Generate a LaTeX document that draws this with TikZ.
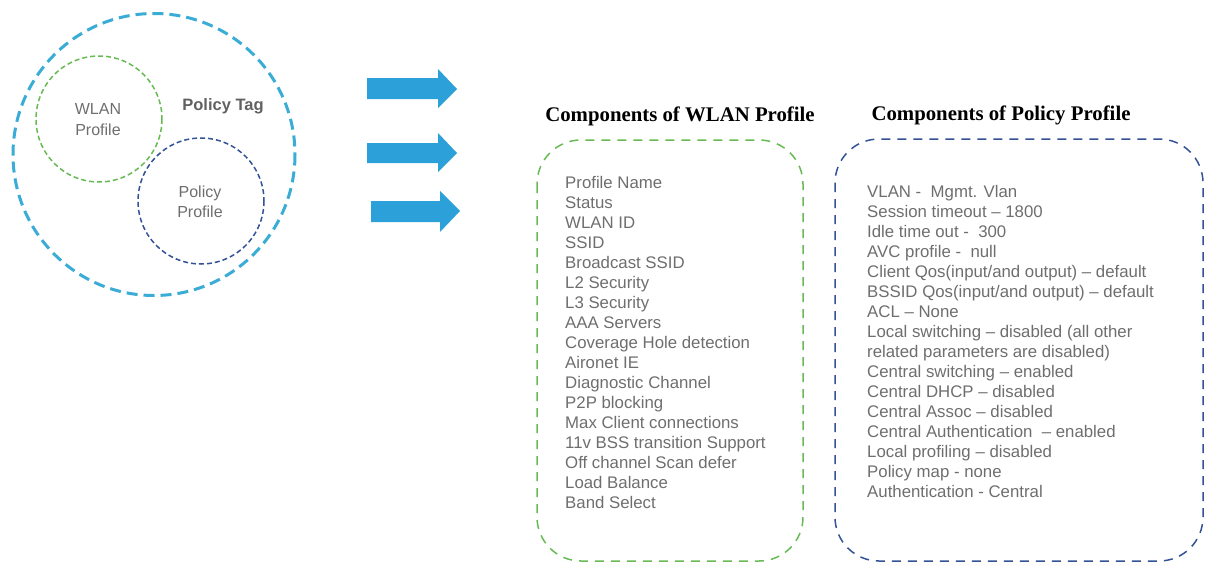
\documentclass[tikz,border=0pt]{standalone}
\usepackage{fontspec}
\setmainfont{Liberation Sans}
\newfontfamily\headfont{Liberation Serif}
\definecolor{tagblue}{RGB}{58,172,214}
\definecolor{wgreen}{RGB}{104,186,84}
\definecolor{pblue}{RGB}{52,82,150}
\definecolor{arrowblue}{RGB}{44,160,216}
\definecolor{txtgray}{RGB}{110,110,110}
\begin{document}
\begin{tikzpicture}[x=1pt,y=-1pt,
  item/.style={anchor=base west,inner sep=0pt,text=txtgray,font=\fontsize{16.8}{20}\selectfont},
  ctext/.style={anchor=base,inner sep=0pt,text=txtgray,font=\fontsize{16}{20}\selectfont},
  head/.style={anchor=base,inner sep=0pt,font=\headfont\bfseries\fontsize{20.8}{24}\selectfont},
  bigarrow/.style={fill=arrowblue,draw=none},
  box/.style={line width=1.5pt,dash pattern=on 9pt off 7pt,rounded corners=44pt}]
\useasboundingbox (0,0) rectangle (1208,562);
% circles
\draw[tagblue,line width=3pt,dash pattern=on 11pt off 6pt] (154,154.5) circle (141);
\draw[wgreen,line width=1.5pt,dash pattern=on 5pt off 3pt] (99,119) circle (63);
\draw[pblue,line width=1.5pt,dash pattern=on 5pt off 3pt] (201,201) circle (63);
\node[ctext] (wl1) at (98,114) {WLAN};
\node[ctext] (wl2) at (98,135) {Profile};
\node[ctext] (pp1) at (200,197) {Policy};
\node[ctext] (pp2) at (200,217) {Profile};
\node[anchor=base,inner sep=0pt,text=black!62,font=\bfseries\fontsize{16.5}{20}\selectfont] (tag) at (223,110) {Policy Tag};
% arrows
\fill[bigarrow] (367,78) -- (438,78) -- (438,69) -- (457,89) -- (438,108) -- (438,99) -- (367,99) -- cycle;
\fill[bigarrow] (367,143) -- (438,143) -- (438,133) -- (457,153) -- (438,172) -- (438,163) -- (367,163) -- cycle;
\fill[bigarrow] (371,201) -- (440,201) -- (440,191) -- (460,211) -- (440,232) -- (440,222) -- (371,222) -- cycle;
% headings
\node[head] (hw) at (680,121) {Components of WLAN Profile};
\node[head] (hp) at (1001,120) {Components of Policy Profile};
% boxes
\draw[box,wgreen] (537,140) rectangle (803,561);
\draw[box,pblue] (835,139) rectangle (1203,561);
% WLAN items
\foreach \t [count=\i] in {Profile Name,Status,WLAN ID,SSID,Broadcast SSID,L2 Security,L3 Security,AAA Servers,Coverage Hole detection,Aironet IE,Diagnostic Channel,P2P blocking,Max Client connections,11v BSS transition Support,Off channel Scan defer,Load Balance,Band Select}
  \node[item] (w\i) at (565,168+20*\i) {\t};
% Policy items
\foreach \t [count=\i] in {VLAN -\ \ Mgmt. Vlan,Session timeout – 1800,Idle time out -\ \ 300,AVC profile -\ \ null,Client Qos(input/and output) – default,BSSID Qos(input/and output) – default,ACL – None,Local switching – disabled (all other,related parameters are disabled),Central switching – enabled,Central DHCP – disabled,Central Assoc – disabled,Central Authentication\ \ – enabled,Local profiling – disabled,Policy map - none,Authentication - Central}
  \node[item] (p\i) at (867,177+20*\i) {\t};
\end{tikzpicture}
\end{document}
